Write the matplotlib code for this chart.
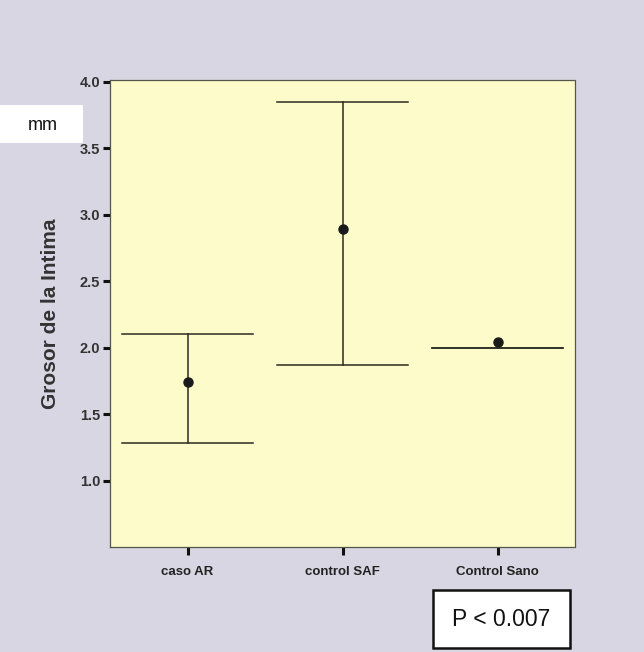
import matplotlib
matplotlib.use('Agg')
import matplotlib.pyplot as plt
from matplotlib.patches import Rectangle

categories = ['caso AR', 'control SAF', 'Control Sano']
means = [1.74, 2.89, 2.04]
ci_low = [1.285, 1.87, 2.00]
ci_high = [2.105, 3.85, 2.00]
y_ticks = [1.0, 1.5, 2.0, 2.5, 3.0, 3.5, 4.0]

plt.rcParams['font.family'] = ['Liberation Sans', 'DejaVu Sans']

fig = plt.figure(figsize=(6.44, 6.52), dpi=100)
fig.patch.set_facecolor('#d9d6e3')

ax = fig.add_axes([110 / 644, 105 / 652, 465 / 644, 467 / 652])
ax.set_facecolor('#fdfbc9')

xs = list(range(1, len(categories) + 1))
cap = 0.42
for x, m, lo, hi in zip(xs, means, ci_low, ci_high):
	ax.plot([x, x], [lo, hi], color='#2b2b22', lw=1.1)
	ax.plot([x - cap, x + cap], [hi, hi], color='#2b2b22', lw=1.1)
	ax.plot([x - cap, x + cap], [lo, lo], color='#2b2b22', lw=1.1)
	ax.plot(x, m, 'o', color='#1a1a1a', ms=6.5)

ax.set_xlim(0.5, 3.5)
ax.set_ylim(0.5, 4.015)
ax.set_xticks(xs)
ax.set_xticklabels(categories, fontsize=9.5, fontweight='bold', color='#222222')
ax.set_yticks(y_ticks)
ax.set_yticklabels([f'{v:.1f}' for v in y_ticks], fontsize=10.5, fontweight='bold', color='#333333')
ax.tick_params(axis='y', length=5, width=2.2, color='#111111', pad=2)
ax.tick_params(axis='x', length=6, width=2.2, color='#111111', pad=8)

for s in ax.spines.values():
	s.set_color('#55554a')
	s.set_linewidth(0.9)
	s.set_linestyle((0, (2, 1)))

ax.set_ylabel('Grosor de la Intima', fontsize=15, fontweight='bold', color='#333333', labelpad=14)

# white label patch with "mm"
fig.patches.append(Rectangle((0, 1 - 143 / 652), 83 / 644, 38 / 652, transform=fig.transFigure,
	facecolor='white', edgecolor='none', zorder=0))
fig.text(43 / 644, 1 - 126 / 652, 'mm', fontsize=13, ha='center', va='center', color='#111111')

# p-value box
fig.patches.append(Rectangle((433 / 644, 1 - 648 / 652), 137 / 644, 58 / 652, transform=fig.transFigure,
	facecolor='white', edgecolor='#111111', lw=1.8, zorder=1))
fig.text(501 / 644, 1 - 619 / 652, 'P < 0.007', fontsize=16.5, ha='center', va='center', color='#111111', zorder=2)

fig.savefig('out.png', dpi=100, facecolor=fig.get_facecolor())
